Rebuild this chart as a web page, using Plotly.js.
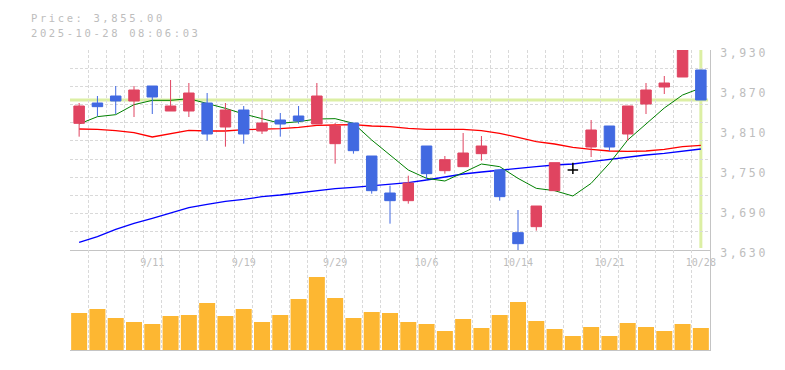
<!DOCTYPE html>
<html>
<head>
<meta charset="utf-8">
<script src="https://cdn.plot.ly/plotly-3.0.1.min.js"></script>
<style>
  html, body { margin: 0; padding: 0; background: #fff; }
  #chart { width: 785px; height: 370px; }
  .annotation-text { letter-spacing: 2.6px; }
  .ytick text { letter-spacing: 2.6px; }
</style>
</head>
<body>
<div id="chart"></div>
<script>
// ---- data ----
const dates = ['2025-09-05','2025-09-08','2025-09-09','2025-09-10','2025-09-11',
  '2025-09-12','2025-09-16','2025-09-17','2025-09-18','2025-09-19',
  '2025-09-22','2025-09-24','2025-09-25','2025-09-26','2025-09-29',
  '2025-09-30','2025-10-01','2025-10-02','2025-10-03','2025-10-06',
  '2025-10-07','2025-10-08','2025-10-09','2025-10-10','2025-10-14',
  '2025-10-15','2025-10-16','2025-10-17','2025-10-20','2025-10-21',
  '2025-10-22','2025-10-23','2025-10-24','2025-10-27','2025-10-28'];

const openP  = [3820, 3850.5, 3861, 3853.5, 3876, 3838.5, 3838.5, 3850.5, 3814.5, 3840,
  3808.5, 3825, 3831, 3819, 3789.5, 3820.5, 3771, 3715.5, 3704, 3786,
  3749, 3755, 3774.5, 3750, 3656, 3665, 3719, 3750, 3784.5, 3816,
  3804, 3849, 3874.5, 3889.5, 3900];
const highP  = [3850.5, 3861, 3876, 3876, 3876, 3885, 3880.5, 3865.5, 3850.5, 3846,
  3840, 3835.5, 3846, 3880.5, 3820.5, 3820.5, 3771, 3726.5, 3741.5, 3786,
  3771, 3805.5, 3801, 3750, 3690, 3696, 3761, 3761, 3825, 3816,
  3846, 3880.5, 3891, 3930, 3900];
const lowP   = [3800, 3830.5, 3834, 3829.5, 3834, 3838.5, 3829.5, 3794, 3785, 3789.5,
  3804, 3800, 3819.5, 3819, 3759.5, 3774.5, 3714.5, 3669.5, 3699.5, 3734,
  3744.5, 3755, 3764, 3704, 3630, 3659, 3719, 3744, 3769.5, 3778.5,
  3793.5, 3834, 3864, 3889.5, 3855];
const closeP = [3846, 3845, 3853.5, 3870, 3859.5, 3846, 3865.5, 3804, 3840, 3804,
  3820.5, 3819, 3823.5, 3861, 3816, 3779, 3719, 3704, 3730.5, 3744.5,
  3765.5, 3775.5, 3786, 3710, 3639.5, 3696, 3761, 3750, 3810, 3784.5,
  3846, 3870, 3880.5, 3930, 3855];

const volume = [370000, 410000, 320000, 280000, 260000, 340000, 350000, 470000, 340000, 410000,
  280000, 350000, 510000, 730000, 520000, 320000, 380000, 370000, 280000, 260000,
  190000, 310000, 220000, 350000, 480000, 290000, 210000, 140000, 230000, 140000,
  270000, 230000, 190000, 260000, 220000];

const ma5  = [3819, 3830, 3833, 3848, 3854.5, 3854.5, 3857, 3850, 3842.5, 3834,
  3826.5, 3820, 3822.5, 3826.5, 3827, 3820, 3795, 3772.5, 3750, 3737.5,
  3733.5, 3746, 3759, 3755, 3737.5, 3722.5, 3719, 3711, 3730, 3760,
  3795, 3819, 3843, 3862.5, 3873];
const ma25 = [3811.5, 3811, 3809, 3806, 3799.5, 3804, 3809.5, 3808.5, 3808.5, 3810.5,
  3811, 3812, 3814, 3817, 3817.5, 3818, 3816, 3815, 3812.5, 3811,
  3811, 3811, 3809, 3805, 3799, 3792.5, 3789, 3784, 3781, 3778.5,
  3778, 3778.5, 3781, 3785, 3787];
const ma75 = [3641.5, 3650, 3661, 3670, 3677.5, 3685, 3693.5, 3698.5, 3703, 3706,
  3710, 3712.5, 3716, 3719, 3722, 3724, 3726, 3728, 3731, 3735,
  3740, 3744, 3747, 3750, 3752.5, 3755, 3757.5, 3759, 3762.5, 3766,
  3769, 3772.5, 3775, 3778.5, 3781.5];

const tickDates  = ['2025-09-11','2025-09-19','2025-09-29','2025-10-06','2025-10-14','2025-10-21','2025-10-28'];
const tickLabels = ['9/11','9/19','9/29','10/6','10/14','10/21','10/28'];
const priceTicks = [3630, 3690, 3750, 3810, 3870, 3930];
const priceRange = [3630, 3930];
const stamp = '2025-10-28 08:06:03';

// ---- style ----
const UP = '#e04460', DOWN = '#4169e1', VOL = '#fdb732';
const GRID = '#d9d9d9', AXIS = '#c4c4c4', TXT = '#bdbdbd';
const MONO = 'DejaVu Sans Mono, monospace';
const CROSS = '#dcefa4';
const H_GRID_STEPS = 11;

const n = dates.length;
const lastClose = closeP[n - 1];
const isDoji = i => openP[i] === closeP[i];
const pick = (arr, want) => arr.filter((_, i) => isDoji(i) === want);
const allTickText = dates.map(d => {
  const k = tickDates.indexOf(d);
  return k >= 0 ? tickLabels[k] : '';
});

const traces = [
  {type: 'scatter', mode: 'lines', x: dates, y: ma75, xaxis: 'x', yaxis: 'y',
   line: {color: '#0000ff', width: 1.3}, hoverinfo: 'skip'},
  {type: 'scatter', mode: 'lines', x: dates, y: ma25, xaxis: 'x', yaxis: 'y',
   line: {color: '#ff0000', width: 1.3}, hoverinfo: 'skip'},
  {type: 'scatter', mode: 'lines', x: dates, y: ma5, xaxis: 'x', yaxis: 'y',
   line: {color: '#008000', width: 1}, hoverinfo: 'skip'},
  {type: 'candlestick', xaxis: 'x', yaxis: 'y3',
   x: pick(dates, false), open: pick(openP, false), high: pick(highP, false),
   low: pick(lowP, false), close: pick(closeP, false),
   increasing: {line: {color: UP, width: 1}, fillcolor: UP},
   decreasing: {line: {color: DOWN, width: 1}, fillcolor: DOWN},
   whiskerwidth: 0, hoverinfo: 'skip'},
  {type: 'candlestick', xaxis: 'x', yaxis: 'y3',
   x: pick(dates, true), open: pick(openP, true), high: pick(highP, true),
   low: pick(lowP, true), close: pick(closeP, true),
   increasing: {line: {color: '#000', width: 1.5}, fillcolor: '#000'},
   decreasing: {line: {color: '#000', width: 1.5}, fillcolor: '#000'},
   whiskerwidth: 0, hoverinfo: 'skip'},
  {type: 'bar', x: dates, y: volume, xaxis: 'x2', yaxis: 'y2',
   marker: {color: VOL, line: {width: 0}}, hoverinfo: 'skip'}
];

const catAxis = {type: 'category', categoryorder: 'array', categoryarray: dates,
  range: [-0.5, n - 0.5], domain: [0, 1],
  tickmode: 'array', tickvals: dates, ticktext: allTickText, tickson: 'boundaries',
  tickangle: 0, ticks: '', showgrid: true, gridcolor: GRID, griddash: '3px,2px', gridwidth: 1,
  zeroline: false, showline: true, linecolor: AXIS, linewidth: 1, fixedrange: true};

const layout = {
  width: 785, height: 370,
  margin: {l: 70, r: 75, t: 50, b: 20},
  paper_bgcolor: '#fff', plot_bgcolor: '#fff',
  showlegend: false, hovermode: false,
  boxgap: 0.18, bargap: 0.125,
  separators: '.,',
  xaxis: Object.assign({}, catAxis, {anchor: 'y',
    ticklabelposition: 'outside right', ticklabelshift: -1.5, ticklabelstandoff: 3,
    tickfont: {family: MONO, size: 10, color: TXT},
    rangeslider: {visible: false}}),
  yaxis: {domain: [1/3, 1], range: priceRange, anchor: 'x', side: 'right',
    tickmode: 'array', tickvals: priceTicks, tickformat: ',d', ticks: '',
    ticklabelshift: 3, ticklabelstandoff: 7,
    tickfont: {family: MONO, size: 11.5, color: TXT},
    showgrid: false, zeroline: false, showline: true, linecolor: AXIS, linewidth: 1,
    fixedrange: true},
  yaxis3: {overlaying: 'y', anchor: 'x', side: 'right', range: priceRange,
    tickmode: 'linear', tick0: priceRange[0], dtick: (priceRange[1] - priceRange[0]) / H_GRID_STEPS,
    showgrid: true, gridcolor: GRID, griddash: '3px,2px', gridwidth: 1,
    showticklabels: false, ticks: '', zeroline: false, showline: false, fixedrange: true},
  xaxis2: Object.assign({}, catAxis, {anchor: 'y2', showticklabels: false}),
  yaxis2: {domain: [0, 1/3], range: [0, 1000000], anchor: 'x2', side: 'right',
    showticklabels: false, ticks: '', showgrid: false, zeroline: false,
    showline: true, linecolor: AXIS, linewidth: 1, fixedrange: true},
  shapes: [
    {type: 'line', layer: 'below', xref: 'x domain', x0: 0, x1: 0.997,
     yref: 'y', y0: lastClose, y1: lastClose, line: {color: CROSS, width: 3}},
    {type: 'line', layer: 'below', xref: 'x', x0: dates[n - 1], x1: dates[n - 1],
     yref: 'y domain', y0: 0.01, y1: 1, line: {color: CROSS, width: 3}}
  ],
  annotations: [
    {xref: 'paper', yref: 'paper', x: -0.064, y: 1.134, xanchor: 'left', yanchor: 'top',
     showarrow: false, text: 'Price: ' + lastClose.toLocaleString('en-US', {minimumFractionDigits: 2, maximumFractionDigits: 2}),
     font: {family: MONO, size: 10.5, color: TXT}},
    {xref: 'paper', yref: 'paper', x: -0.064, y: 1.084, xanchor: 'left', yanchor: 'top',
     showarrow: false, text: stamp,
     font: {family: MONO, size: 10.5, color: TXT}}
  ]
};

Plotly.newPlot('chart', traces, layout, {displayModeBar: false, staticPlot: true});
</script>
</body>
</html>
